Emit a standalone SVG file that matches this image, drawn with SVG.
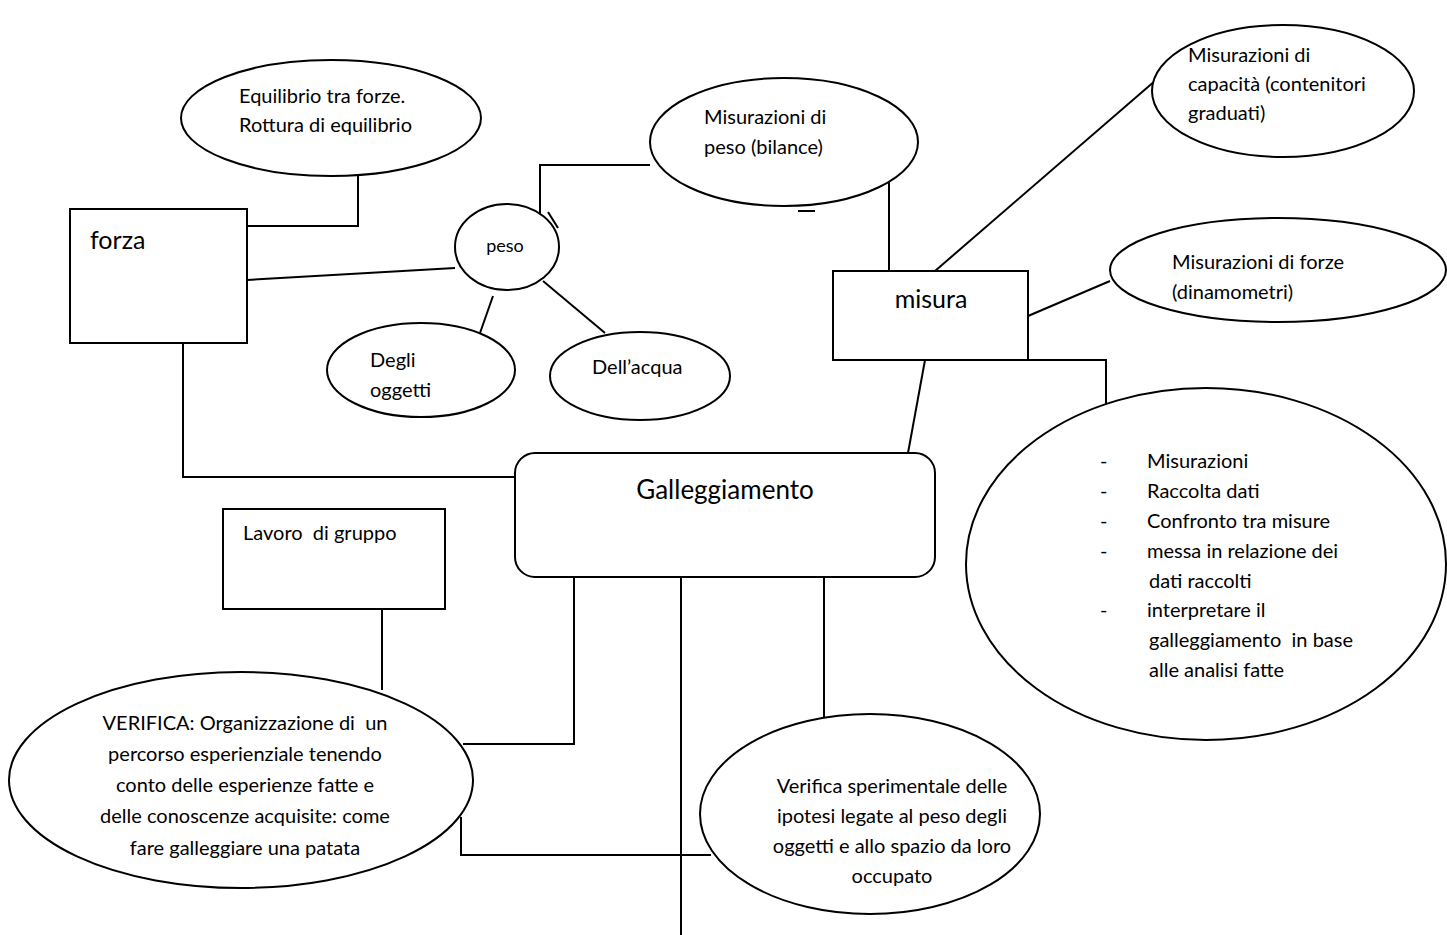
<svg xmlns="http://www.w3.org/2000/svg" width="1447" height="935" viewBox="0 0 1447 935">
<style>
.s{fill:#fff;stroke:#000;stroke-width:2}
.c{fill:none;stroke:#000;stroke-width:2}
text{font-family:Lato,"Liberation Sans",sans-serif;fill:#000;font-size:20px}
.big{font-size:25px}
.m{text-anchor:middle}
</style>
<defs>
<clipPath id="vclip"><rect x="0" y="660" width="480" height="198"/></clipPath>
</defs>
<g id="connectors">
<polyline class="c" points="358,176 358,226 247,226"/>
<line class="c" x1="247" y1="280" x2="455" y2="268"/>
<polyline class="c" points="650,165 540,165 540,222"/>
<line class="c" x1="548" y1="212" x2="558" y2="228"/>
<line class="c" x1="798" y1="211" x2="815" y2="211"/>
<line class="c" x1="889" y1="182" x2="889" y2="271"/>
<line class="c" x1="493" y1="296" x2="480" y2="333"/>
<line class="c" x1="543" y1="281" x2="605" y2="333"/>
<polyline class="c" points="183,343 183,477 515,477"/>
<line class="c" x1="925" y1="360" x2="908" y2="453"/>
<line class="c" x1="935" y1="271" x2="1156" y2="80"/>
<line class="c" x1="1028" y1="316" x2="1110" y2="281"/>
<polyline class="c" points="1028,360 1106,360 1106,404 1111,404"/>
<line class="c" x1="382" y1="609" x2="382" y2="690"/>
<polyline class="c" points="574,577 574,744 463,744"/>
<line class="c" x1="681" y1="577" x2="681" y2="935"/>
<line class="c" x1="824" y1="577" x2="824" y2="718"/>
<polyline class="c" points="461,817 461,855 711,855"/>
</g>
<g id="equilibrio">
<ellipse class="s" cx="331" cy="118" rx="150" ry="58"/>
<text x="239" y="103">Equilibrio tra forze.</text>
<text x="239" y="132">Rottura di equilibrio</text>
</g>
<g id="forza">
<rect class="s" x="70" y="209" width="177" height="134"/>
<text class="big" x="90" y="249">forza</text>
</g>
<g id="peso">
<ellipse class="s" cx="507" cy="247" rx="52" ry="43"/>
<text class="m" x="505" y="252" style="font-size:18px">peso</text>
</g>
<g id="mis-peso">
<ellipse class="s" cx="784" cy="142" rx="134" ry="64"/>
<text x="704" y="124">Misurazioni di</text>
<text x="704" y="154">peso (bilance)</text>
</g>
<g id="degli">
<ellipse class="s" cx="421" cy="370" rx="94" ry="47"/>
<text x="370" y="367">Degli</text>
<text x="370" y="397">oggetti</text>
</g>
<g id="acqua">
<ellipse class="s" cx="640" cy="376" rx="90" ry="44"/>
<text x="592" y="374">Dell’acqua</text>
</g>
<g id="misura">
<rect class="s" x="833" y="271" width="195" height="89"/>
<text class="big m" x="931" y="308">misura</text>
</g>
<g id="capacita">
<ellipse class="s" cx="1283" cy="91" rx="131" ry="66"/>
<text x="1188" y="62">Misurazioni di</text>
<text x="1188" y="91">capacità (contenitori</text>
<text x="1188" y="120">graduati)</text>
</g>
<g id="forze">
<ellipse class="s" cx="1278" cy="270" rx="168" ry="52"/>
<text x="1172" y="269">Misurazioni di forze</text>
<text x="1172" y="299">(dinamometri)</text>
</g>
<g id="attivita">
<ellipse class="s" cx="1206" cy="564" rx="240" ry="176"/>
<text x="1100" y="468">-</text><text x="1147" y="468">Misurazioni</text>
<text x="1100" y="498">-</text><text x="1147" y="498">Raccolta dati</text>
<text x="1100" y="528">-</text><text x="1147" y="528">Confronto tra misure</text>
<text x="1100" y="558">-</text><text x="1147" y="558">messa in relazione dei</text>
<text x="1149" y="588">dati raccolti</text>
<text x="1100" y="617">-</text><text x="1147" y="617">interpretare il</text>
<text x="1149" y="647" style="white-space:pre">galleggiamento  in base</text>
<text x="1149" y="677">alle analisi fatte</text>
</g>
<g id="galleggiamento">
<rect class="s" x="515" y="453" width="420" height="124" rx="20"/>
<text class="m" x="725" y="499" style="font-size:26px">Galleggiamento</text>
</g>
<g id="lavoro">
<rect class="s" x="223" y="509" width="222" height="100"/>
<text x="243" y="540" style="white-space:pre">Lavoro  di gruppo</text>
</g>
<g id="verifica">
<ellipse class="s" cx="241" cy="780" rx="232" ry="108"/>
<g clip-path="url(#vclip)">
<text class="m" x="245" y="730" style="white-space:pre">VERIFICA: Organizzazione di  un</text>
<text class="m" x="245" y="761">percorso esperienziale tenendo</text>
<text class="m" x="245" y="792">conto delle esperienze fatte e</text>
<text class="m" x="245" y="823">delle conoscenze acquisite: come</text>
<text class="m" x="245" y="855">fare galleggiare una patata</text>
</g>
</g>
<g id="verifica-sperimentale">
<ellipse class="s" cx="870" cy="814" rx="170" ry="100"/>
<text class="m" x="892" y="793">Verifica sperimentale delle</text>
<text class="m" x="892" y="823">ipotesi legate al peso degli</text>
<text class="m" x="892" y="853">oggetti e allo spazio da loro</text>
<text class="m" x="892" y="883">occupato</text>
</g>
</svg>
